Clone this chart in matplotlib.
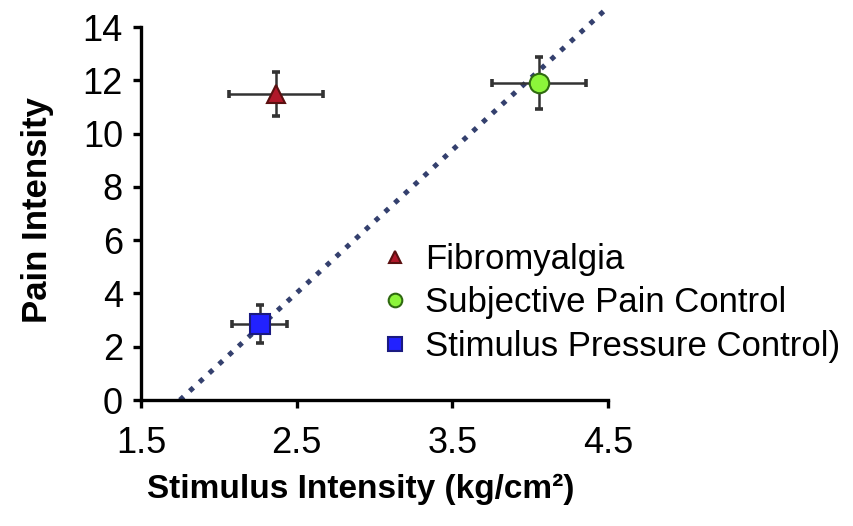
import matplotlib
matplotlib.use("Agg")
import matplotlib.pyplot as plt

plt.rcParams['font.family'] = ['Liberation Sans', 'DejaVu Sans']

# ---- data ----
groups = ["Fibromyalgia", "Subjective Pain Control", "Stimulus Pressure Control)"]
stim_x = [2.367, 4.056, 2.264]
pain_y = [11.5, 11.9, 2.84]
x_err = [0.30, 0.30, 0.177]
y_err = [0.83, 0.96, 0.71]
markers = ["^", "o", "s"]
face_colors = ["#b0182a", "#8cf53a", "#2222ff"]
edge_colors = ["#5a1010", "#2f6a10", "#1a1a80"]

fit_slope = 5.36
fit_intercept = -9.38
fit_x = [1.75, 4.48]

x_ticks = [1.5, 2.5, 3.5, 4.5]
y_ticks = [0, 2, 4, 6, 8, 10, 12, 14]

# ---- figure ----
W, H = 854, 526
fig = plt.figure(figsize=(W / 100, H / 100), dpi=100)
ax = fig.add_axes([141 / W, 1 - 400 / H, (608 - 141) / W, (400 - 5.7) / H])
ax.set_xlim(1.5, 4.5)
ax.set_ylim(0, 14.8)

fit_y = [fit_slope * v + fit_intercept for v in fit_x]
ax.plot(fit_x, fit_y, linestyle=':', color='#34406e', lw=3.6, zorder=2)

for i in range(len(groups)):
    ax.errorbar(stim_x[i], pain_y[i], xerr=x_err[i], yerr=y_err[i], fmt='none',
                ecolor='#333333', elinewidth=1.8, capsize=3, capthick=2.6, zorder=3)
    ms = 13 if markers[i] == "^" else 14
    ax.plot(stim_x[i], pain_y[i], linestyle='none', marker=markers[i], ms=ms,
            mfc=face_colors[i], mec=edge_colors[i], mew=1.5, zorder=4, label=groups[i])

for s in ['top', 'right']:
    ax.spines[s].set_visible(False)
for s in ['left', 'bottom']:
    ax.spines[s].set_linewidth(2.4)
ax.spines['left'].set_bounds(0, 14)
ax.spines['bottom'].set_bounds(1.5, 4.5)

ax.set_xticks(x_ticks)
ax.set_xticklabels([str(v) for v in x_ticks])
ax.set_yticks(y_ticks)
ax.tick_params(axis='both', direction='out', length=6, width=2.4, labelsize=26)
ax.tick_params(axis='x', pad=13)
ax.tick_params(axis='y', pad=7)

ax.set_xlabel("Stimulus Intensity (kg/cm²)", fontsize=24, fontweight='bold')
ax.xaxis.set_label_coords((361 - 141) / 467, (400 - 489) / 394.3)
ax.xaxis.label.set_va('center')
ax.set_ylabel("Pain Intensity", fontsize=25, fontweight='bold')
ax.yaxis.set_label_coords((38 - 141) / 467, (400 - 210) / 394.3)
ax.yaxis.label.set_va('center')
ax.yaxis.label.set_ha('center')

leg = ax.legend(loc='upper left', bbox_to_anchor=(385 / W, 1 - 243 / H),
                bbox_transform=fig.transFigure, frameon=False, fontsize=25,
                markerscale=0.7, handlelength=0.6, handletextpad=0.55,
                labelspacing=0.3, borderaxespad=0, borderpad=0)

fig.savefig("out.png", dpi=100)
